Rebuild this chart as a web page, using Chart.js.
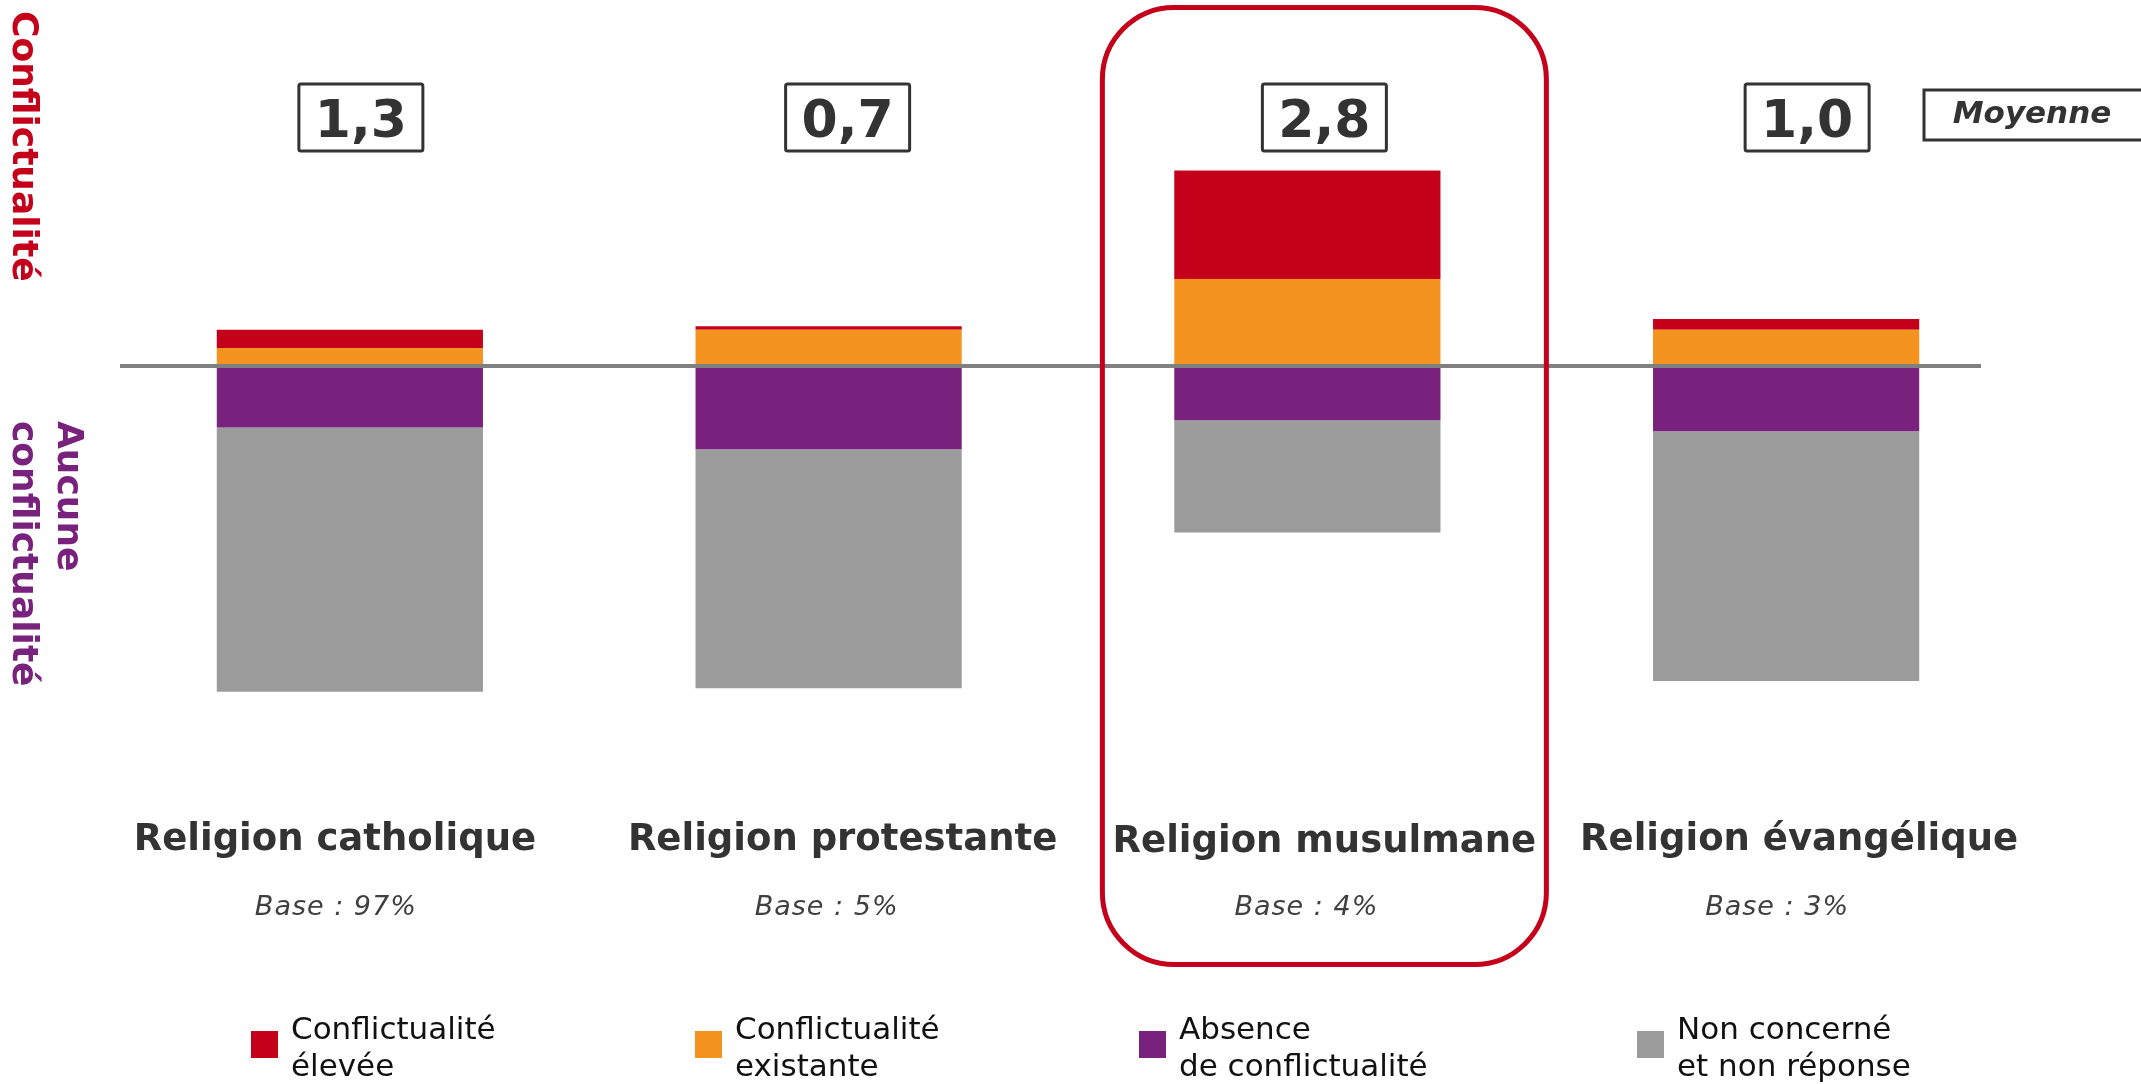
<!DOCTYPE html>
<html>
<head>
<meta charset="utf-8">
<script src="https://cdn.jsdelivr.net/npm/chart.js@4/dist/chart.umd.min.js"></script>
<style>
  html, body { margin: 0; padding: 0; background: #fff; }
  #wrap { width: 2141px; height: 1084px; }
</style>
</head>
<body>
<div id="wrap"><canvas id="chart" width="2141" height="1084"></canvas></div>
<script>
// categories and annotations
const categories = ['Religion catholique', 'Religion protestante', 'Religion musulmane', 'Religion évangélique'];
const baseLabels = ['Base : 97%', 'Base : 5%', 'Base : 4%', 'Base : 3%'];
const scores = ['1,3', '0,7', '2,8', '1,0'];
const highlighted = 2;

// series, in % (the two "no conflict" series are drawn below zero)
const eleveeValues = [5, 1, 30, 3];
const existanteValues = [5, 10, 24, 10];
const absenceValues = [17, 23, 15, 18];
const nonConcerneValues = [73, 66, 31, 69];

const RED = '#C5001A', ORANGE = '#F59320', PURPLE = '#79227D', GREY = '#9B9B9B';
const TEXT = '#333333';

// stacking goes from zero outward: orange then red above, purple then grey below
const datasets = [
  { label: ['Conflictualité', 'existante'], data: existanteValues, backgroundColor: ORANGE },
  { label: ['Conflictualité', 'élevée'], data: eleveeValues, backgroundColor: RED },
  { label: ['Absence', 'de conflictualité'], data: absenceValues.map(v => -v), backgroundColor: PURPLE },
  { label: ['Non concerné', 'et non réponse'], data: nonConcerneValues.map(v => -v), backgroundColor: GREY }
];
const legendOrder = [1, 0, 2, 3];

// text nudges relative to each bar centre (the slide isn't perfectly aligned)
const scoreShift = [11, 19, 17, 21];
const nameShift = [-15, 14, 17, 13];
const baseShift = [-14, -2, -1, -9];

const decor = {
  id: 'decor',
  afterDatasetsDraw(chart) {
    const ctx = chart.ctx;
    const y0 = chart.scales.y.getPixelForValue(0);
    ctx.save();
    ctx.fillStyle = '#808080';
    ctx.fillRect(120, y0 - 2, 1861, 4);
    ctx.restore();
  },
  afterDraw(chart) {
    const ctx = chart.ctx;
    const xs = chart.scales.x;
    ctx.save();

    // highlight frame
    const hx = xs.getPixelForValue(highlighted) + 17;
    ctx.strokeStyle = RED;
    ctx.lineWidth = 5;
    ctx.beginPath();
    ctx.roundRect(hx - 222, 7.5, 444, 957, 72);
    ctx.stroke();

    categories.forEach((name, i) => {
      const cx = xs.getPixelForValue(i);
      // score boxes
      const bx = cx + scoreShift[i];
      ctx.strokeStyle = TEXT;
      ctx.lineWidth = 3;
      ctx.beginPath();
      ctx.roundRect(bx - 62, 84, 124, 67, 2);
      ctx.stroke();
      ctx.fillStyle = TEXT;
      ctx.font = 'bold 52px "DejaVu Sans"';
      ctx.textAlign = 'center';
      ctx.textBaseline = 'alphabetic';
      ctx.fillText(scores[i], bx, 137);
      // category label
      ctx.font = 'bold 37px "DejaVu Sans"';
      ctx.fillText(name, cx + nameShift[i], i === highlighted ? 852 : 850);
      // base
      ctx.fillStyle = '#404040';
      ctx.font = 'italic 27px "DejaVu Sans"';
      ctx.letterSpacing = '1px';
      ctx.fillText(baseLabels[i], cx + baseShift[i], 915);
      ctx.letterSpacing = '0px';
    });

    // "Moyenne" box
    ctx.strokeStyle = TEXT;
    ctx.lineWidth = 3;
    ctx.strokeRect(1924, 90, 230, 50);
    ctx.fillStyle = TEXT;
    ctx.font = 'italic bold 31px "DejaVu Sans"';
    ctx.textAlign = 'center';
    ctx.fillText('Moyenne', 2032, 123);

    // side labels, rotated
    ctx.textAlign = 'left';
    ctx.font = 'bold 36px "DejaVu Sans"';
    ctx.save();
    ctx.translate(13, 11);
    ctx.rotate(Math.PI / 2);
    ctx.fillStyle = RED;
    ctx.fillText('Conflictualité', 0, 0);
    ctx.restore();
    ctx.save();
    ctx.translate(13, 421);
    ctx.rotate(Math.PI / 2);
    ctx.fillStyle = PURPLE;
    ctx.fillText('conflictualité', 0, 0);
    ctx.fillText('Aucune', 0, -45);
    ctx.restore();

    // legend
    const legendX = [251, 695, 1139, 1637];
    ctx.font = '31px "DejaVu Sans"';
    ctx.textAlign = 'left';
    legendOrder.forEach((di, k) => {
      const ds = chart.data.datasets[di];
      ctx.fillStyle = ds.backgroundColor;
      ctx.fillRect(legendX[k], 1031, 27, 27);
      ctx.fillStyle = '#111';
      ctx.fillText(ds.label[0], legendX[k] + 40, 1039);
      ctx.fillText(ds.label[1], legendX[k] + 40, 1076);
    });
    ctx.restore();
  }
};

new Chart(document.getElementById('chart'), {
  type: 'bar',
  data: { labels: categories, datasets },
  options: {
    responsive: false,
    animation: false,
    layout: { padding: { top: 148.8, bottom: 356, left: 110.5, right: 115.5 } },
    datasets: { bar: { categoryPercentage: 1, barPercentage: 0.556, borderWidth: 0 } },
    plugins: { legend: { display: false }, tooltip: { enabled: false } },
    scales: {
      x: { stacked: true, display: false, grid: { display: false } },
      y: { stacked: true, display: false, min: -100, max: 60, grid: { display: false } }
    }
  },
  plugins: [decor]
});
</script>
</body>
</html>
